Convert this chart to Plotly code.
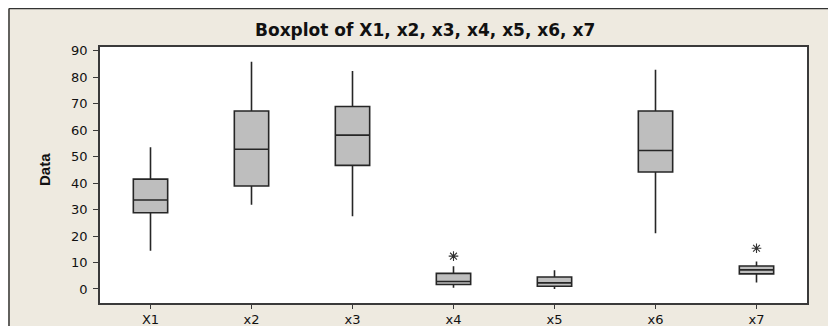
import plotly.graph_objects as go

categories = ["X1", "x2", "x3", "x4", "x5", "x6", "x7"]
lower_whisker = [14.4, 31.8, 27.5, 0.5, 0.0, 21.0, 2.4]
q1_values = [28.8, 38.9, 46.7, 1.7, 1.0, 44.2, 5.7]
median_values = [33.6, 52.8, 58.1, 2.8, 2.3, 52.3, 7.2]
q3_values = [41.5, 67.2, 68.9, 5.9, 4.5, 67.2, 8.7]
upper_whisker = [53.5, 85.8, 82.3, 8.6, 7.1, 82.8, 10.4]
outlier_categories = ["x4", "x7"]
outlier_values = [12.4, 15.4]
y_ticks = [0, 10, 20, 30, 40, 50, 60, 70, 80, 90]

# page body has an 8px margin: target screen pixel p -> figure pixel p - 8
OFF = 8
W, H = 836, 326
L, T = 100 - OFF, 47 - OFF
R = W - (807 - OFF)
B = H - (303 - OFF)
pw, ph = W - L - R, H - T - B
BEIGE = "#EEEAE0"
DARK = "#3a3a3a"

fig = go.Figure()
fig.add_trace(go.Box(
    x=categories,
    q1=q1_values, median=median_values, q3=q3_values,
    lowerfence=lower_whisker, upperfence=upper_whisker,
    fillcolor="#BEBEBE",
    line=dict(color="#262626", width=1.6),
    whiskerwidth=0,
    width=0.34,
    boxpoints=False,
    showlegend=False,
    hoverinfo="skip",
))
fig.add_trace(go.Scatter(
    x=outlier_categories, y=outlier_values, mode="markers",
    marker=dict(symbol="asterisk-open", size=8, color="#333",
                line=dict(color="#333", width=1.1)),
    showlegend=False, hoverinfo="skip",
))

fx = lambda px: (px - OFF - L) / pw
fy = lambda py: 1 - (py - OFF - T) / ph

shapes = [
    dict(type="line", xref="paper", yref="paper", x0=fx(9), x1=1.3, y0=fy(8.6), y1=fy(8.6),
         line=dict(color="#333", width=1.5)),
    dict(type="line", xref="paper", yref="paper", x0=fx(9), x1=fx(9), y0=-0.3, y1=fy(8.6),
         line=dict(color="#333", width=1.5)),
]

annotations = [
    dict(text="<b>Boxplot of X1, x2, x3, x4, x5, x6, x7</b>", xref="paper", yref="paper",
         x=fx(425), y=fy(30), xanchor="center", yanchor="middle", showarrow=False,
         font=dict(family="DejaVu Sans", size=17, color="#111")),
    dict(text="<b>Data</b>", xref="paper", yref="paper", textangle=-90,
         x=fx(44), y=fy(170), xanchor="center", yanchor="middle", showarrow=False,
         font=dict(family="Liberation Sans Narrow, Liberation Sans", size=15, color="#111")),
]

fig.update_layout(
    width=W, height=H,
    margin=dict(l=L, r=R, t=T, b=B, pad=0, autoexpand=False),
    paper_bgcolor=BEIGE, plot_bgcolor="white",
    shapes=shapes, annotations=annotations,
    font=dict(family="DejaVu Sans", color="#111", size=13),
    xaxis=dict(
        type="category", categoryorder="array", categoryarray=categories,
        range=[-0.5, 6.5], automargin=False,
        showline=True, linecolor=DARK, linewidth=1.5, mirror=True,
        ticks="outside", ticklen=4, tickcolor=DARK, tickwidth=1,
        showgrid=False, zeroline=False,
        tickfont=dict(family="DejaVu Sans", size=13, color="#111"),
    ),
    yaxis=dict(
        range=[-5.3, 91.4], automargin=False,
        tickvals=y_ticks, ticktext=[str(v) for v in y_ticks],
        showline=True, linecolor=DARK, linewidth=1.5, mirror=True,
        ticks="outside", ticklen=5, tickcolor=DARK, tickwidth=1,
        ticklabelstandoff=3,
        showgrid=False, zeroline=False,
        tickfont=dict(family="DejaVu Sans", size=13, color="#111"),
    ),
)

fig.write_html("out.html")
